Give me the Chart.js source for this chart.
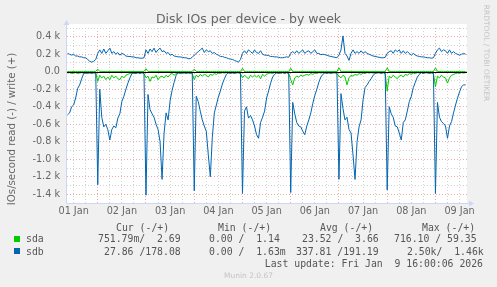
<!DOCTYPE html>
<html>
<head>
<meta charset="utf-8">
<script src="https://cdn.jsdelivr.net/npm/chart.js@4.4.1/dist/chart.umd.min.js"></script>
<style>
  html, body { margin: 0; padding: 0; background: #f0f0f0; }
  #wrap { position: relative; width: 497px; height: 287px; overflow: hidden; font-family: "DejaVu Sans", sans-serif; color: #666; }
  #chart { position: absolute; left: 0; top: 0; }
  .t { position: absolute; white-space: pre; line-height: 12px; height: 12px; }
  .mono { font-family: "DejaVu Sans Mono", monospace; font-size: 9.8px; color: #555; }
  .sq { position: absolute; width: 6px; height: 6px; }
</style>
</head>
<body>
<div id="wrap">
  <canvas id="chart" width="497" height="287"></canvas>
  <div class="t" style="left:0;width:497px;text-align:center;top:11px;line-height:15px;height:15px;font-size:12.5px;">Disk IOs per device - by week</div>
  <div class="t" style="left:-88px;width:200px;top:123px;text-align:center;font-size:10.2px;transform:rotate(-90deg);">IOs/second read (-) / write (+)</div>
  <div class="t" style="left:436px;width:100px;top:47px;text-align:center;font-size:7.5px;color:#c4c4c4;transform:rotate(90deg);">RRDTOOL / TOBI OETIKER</div>

  <div class="t mono" style="left:116px;top:222px;">Cur (-/+)</div>
  <div class="t mono" style="left:218px;top:222px;">Min (-/+)</div>
  <div class="t mono" style="left:320px;top:222px;">Avg (-/+)</div>
  <div class="t mono" style="left:422px;top:222px;">Max (-/+)</div>

  <div class="sq" style="left:14px;top:236px;background:#00cc00;"></div>
  <div class="t mono" style="left:26px;top:233px;">sda</div>
  <div class="t mono" style="left:98px;top:233px;">751.79m/  2.69</div>
  <div class="t mono" style="left:209px;top:233px;">0.00 /  1.14</div>
  <div class="t mono" style="left:302px;top:233px;">23.52 /  3.66</div>
  <div class="t mono" style="left:394px;top:233px;">716.10 / 59.35</div>

  <div class="sq" style="left:14px;top:248px;background:#0066b3;"></div>
  <div class="t mono" style="left:26px;top:246px;">sdb</div>
  <div class="t mono" style="left:104px;top:246px;">27.86 /178.08</div>
  <div class="t mono" style="left:209px;top:246px;">0.00 /  1.63m</div>
  <div class="t mono" style="left:296px;top:246px;">337.81 /191.19</div>
  <div class="t mono" style="left:407px;top:246px;">2.50k/  1.46k</div>

  <div class="t mono" style="left:0;width:483px;text-align:right;top:258px;">Last update: Fri Jan  9 16:00:06 2026</div>
  <div class="t" style="left:0;width:497px;text-align:center;top:270px;font-size:7.5px;color:#c4c4c4;">Munin 2.0.67</div>
</div>
<script>
window.addEventListener("DOMContentLoaded", () => {

  // hourly samples, first one at 01 Jan 09:00 (hours counted from 01 Jan 00:00)
  const firstHour = 9;
  const dayLabels = ["01 Jan", "02 Jan", "03 Jan", "04 Jan", "05 Jan", "06 Jan", "07 Jan", "08 Jan", "09 Jan"];

  // sdb reads (drawn negative)
  const sdbRead = [
    -490, -470, -400, -380, -300, -190, -150, -80, -20, -10, -20, -10, -20, -10, -20,
    -1290, -200, -520, -630, -600, -660, -780, -660, -620, -640, -530, -480, -340, -280, -200, -130, -70, -20, -10, -20, -10, -20, -10, -20,
    -1410, -260, -430, -480, -520, -600, -660, -800, -1230, -700, -470, -550, -330, -210, -120, -40, -10, -20, -10, -10, -20, -10, -20, -10,
    -1360, -280, -340, -450, -550, -620, -680, -950, -1200, -750, -470, -380, -290, -220, -140, -80, -30, -10, -20, -10, -20, -10, -10, -20,
    -1390, -450, -400, -530, -500, -550, -620, -720, -760, -580, -520, -450, -300, -220, -130, -60, -30, -10, -20, -10, -10, -20, -10, -20,
    -1380, -350, -480, -580, -620, -630, -680, -720, -620, -550, -470, -360, -270, -200, -120, -60, -30, -10, -20, -10, -20, -10, -10, -20,
    -1230, -250, -420, -550, -520, -660, -700, -950, -1230, -800, -630, -550, -320, -180, -150, -110, -80, -40, -20, -10, -10, -20, -10, -20,
    -1350, -400, -480, -520, -620, -630, -700, -780, -580, -550, -450, -340, -280, -180, -120, -60, -30, -10, -20, -10, -10, -20, -10, -20,
    -1390, -350, -520, -570, -590, -620, -760, -620, -570, -470, -380, -300, -230, -170, -150, -150
  ];

  // sdb writes
  const sdbWrite = [
    210, 200, 190, 200, 180, 180, 170, 170, 160, 160, 140, 120, 110, 120, 140,
    210, 250, 210, 260, 210, 240, 270, 210, 230, 200, 220, 190, 210, 200, 180, 175, 175, 170, 170, 160, 160, 155, 155, 160,
    250, 210, 260, 230, 270, 220, 250, 270, 230, 240, 210, 220, 190, 200, 180, 175, 170, 170, 165, 160, 160, 150, 150, 165,
    190, 210, 230, 250, 270, 220, 250, 230, 240, 210, 220, 200, 190, 175, 175, 165, 160, 150, 145, 140, 130, 120, 110, 140,
    210, 240, 210, 250, 230, 210, 250, 220, 210, 240, 200, 190, 190, 185, 175, 175, 170, 170, 165, 160, 160, 165, 170, 165,
    210, 230, 210, 240, 210, 230, 250, 210, 230, 240, 210, 230, 250, 210, 210, 195, 200, 195, 190, 180, 175, 170, 165, 160,
    190, 250, 410, 210, 180, 130, 210, 250, 210, 230, 210, 240, 210, 230, 210, 200, 190, 180, 175, 170, 165, 160, 160, 165,
    210, 230, 240, 210, 250, 230, 250, 210, 240, 210, 230, 210, 190, 210, 190, 180, 175, 170, 170, 165, 160, 160, 155, 160,
    210, 250, 270, 230, 250, 240, 210, 250, 210, 230, 210, 200, 190, 200, 210, 200
  ];

  // sda reads (drawn negative)
  const sdaRead = [
    -15, -10, -20, -15, -10, -20, -15, -10, -15, -20, -10, -15, -10, -15, -10,
    -110, -40, -70, -50, -90, -60, -90, -40, -70, -50, -80, -90, -50, -70, -40, -30, -20, -15, -20, -15, -10, -15, -10, -20,
    -70, -50, -110, -60, -70, -40, -90, -60, -50, -70, -40, -60, -30, -20, -40, -20, -15, -10, -20, -15, -10, -15, -10, -20,
    -90, -40, -60, -30, -50, -30, -40, -60, -30, -40, -20, -30, -15, -20, -10, -15, -10, -15, -10, -15, -10, -15, -10, -20,
    -70, -40, -60, -80, -40, -60, -40, -60, -40, -80, -30, -50, -30, -20, -15, -20, -10, -15, -10, -20, -10, -15, -10, -20,
    -90, -150, -70, -50, -60, -40, -50, -40, -30, -40, -20, -30, -15, -20, -10, -15, -10, -15, -10, -15, -10, -15, -10, -20,
    -50, -70, -40, -60, -150, -70, -40, -50, -30, -40, -20, -30, -15, -20, -10, -15, -10, -15, -10, -15, -10, -15, -10, -20,
    -220, -50, -70, -40, -60, -80, -50, -40, -60, -30, -40, -20, -30, -15, -20, -10, -15, -10, -15, -10, -15, -10, -15, -20,
    -170, -50, -70, -40, -60, -70, -130, -70, -40, -30, -20, -15, -20, -10, -15, -10
  ];

  // sda writes
  const sdaWrite = [
    3, 3, 2, 3, 3, 2, 3, 3, 2, 3, 3, 2, 3, 3, 4,
    30, 3, 4, 3, 3, 4, 3, 3, 3, 2, 3, 3, 2, 3, 3, 2, 3, 3, 2, 3, 3, 2, 3, 3,
    35, 3, 4, 3, 3, 4, 3, 3, 3, 2, 3, 3, 2, 3, 3, 2, 3, 3, 2, 3, 3, 2, 3, 3,
    30, 4, 3, 3, 4, 3, 3, 3, 2, 3, 3, 2, 3, 3, 2, 3, 3, 2, 3, 3, 2, 3, 3, 3,
    40, 3, 4, 3, 3, 4, 3, 3, 3, 2, 3, 3, 2, 3, 3, 2, 3, 3, 2, 3, 3, 2, 3, 3,
    40, 4, 3, 3, 4, 3, 3, 3, 2, 3, 3, 2, 3, 3, 2, 3, 3, 2, 3, 3, 2, 3, 3, 3,
    45, 3, 4, 3, 3, 4, 3, 3, 3, 2, 3, 3, 2, 3, 3, 2, 3, 3, 2, 3, 3, 2, 3, 3,
    45, 4, 3, 3, 4, 3, 3, 3, 2, 3, 3, 2, 3, 3, 2, 3, 3, 2, 3, 3, 2, 3, 3, 3,
    45, 4, 3, 3, 4, 3, 3, 3, 2, 3, 3, 2, 3, 3, 3, 3
  ];

  const pts = arr => arr.map((v, i) => ({ x: firstHour + i, y: v }));

  const majorGrid = "#eeaaaa";
  const minorGrid = "#d2d2d2";
  const axisColor = "#cfd6f8";

  // white canvas, zero line and munin style axis arrows
  const muninFrame = {
    id: "muninFrame",
    beforeDraw(chart) {
      const { ctx, chartArea: a } = chart;
      ctx.save();
      ctx.fillStyle = "#ffffff";
      ctx.fillRect(a.left, a.top - 4, a.right - a.left, a.bottom - a.top + 4);
      ctx.restore();
    },
    afterDatasetsDraw(chart) {
      const { ctx, chartArea: a, scales } = chart;
      const y0 = Math.round(scales.y.getPixelForValue(0)) + 0.5;
      const l = Math.round(a.left) - 0.5;
      const b = Math.round(a.bottom) + 0.5;
      ctx.save();
      ctx.lineWidth = 1;
      ctx.strokeStyle = "#000000";
      ctx.beginPath();
      ctx.moveTo(a.left, y0);
      ctx.lineTo(a.right, y0);
      ctx.stroke();

      ctx.strokeStyle = axisColor;
      ctx.beginPath();
      ctx.moveTo(l, b);
      ctx.lineTo(l, a.top - 4);
      ctx.moveTo(l, b);
      ctx.lineTo(a.right + 3, b);
      ctx.stroke();

      ctx.fillStyle = axisColor;
      ctx.beginPath();
      ctx.moveTo(l, a.top - 8);
      ctx.lineTo(l - 3, a.top - 3);
      ctx.lineTo(l + 3, a.top - 3);
      ctx.closePath();
      ctx.fill();
      ctx.beginPath();
      ctx.moveTo(a.right + 7, b);
      ctx.lineTo(a.right + 2, b - 3);
      ctx.lineTo(a.right + 2, b + 3);
      ctx.closePath();
      ctx.fill();
      ctx.restore();
    }
  };

  const line = (data, color) => ({
    data: data,
    borderColor: color,
    borderWidth: 1,
    pointRadius: 0,
    fill: false
  });

  new Chart(document.getElementById("chart"), {
    type: "line",
    data: {
      datasets: [
        line(pts(sdbWrite), "#0066b3"),
        line(pts(sdbRead), "#0066b3"),
        line(pts(sdaWrite), "#00cc00"),
        line(pts(sdaRead), "#00cc00")
      ]
    },
    plugins: [muninFrame],
    options: {
      responsive: false,
      animation: false,
      layout: { padding: { left: 0, right: 30, top: 28, bottom: 0 } },
      elements: { line: { tension: 0 } },
      plugins: { legend: { display: false }, tooltip: { enabled: false } },
      scales: {
        x: {
          type: "linear",
          min: 8.7,
          max: 207.7,
          afterFit: s => { s.height = 84; },
          afterBuildTicks: s => {
            const ticks = [];
            for (let h = 12; h <= 204; h += 6) ticks.push({ value: h });
            s.ticks = ticks;
          },
          border: { display: false, dash: [1, 2] },
          grid: {
            drawTicks: false,
            color: c => (c.tick && c.tick.value % 24 === 0 ? majorGrid : minorGrid)
          },
          ticks: {
            autoSkip: false,
            maxRotation: 0,
            padding: 3,
            color: "#666",
            font: { family: "DejaVu Sans", size: 9.7 },
            callback: v => (v % 24 === 12 ? dayLabels[(v - 12) / 24] : "")
          }
        },
        y: {
          min: -1500,
          max: 500,
          afterFit: s => { s.width = 67; },
          border: { display: false, dash: [1, 2] },
          grid: {
            drawTicks: false,
            color: c => (c.tick && c.tick.value % 200 === 0 ? majorGrid : minorGrid)
          },
          ticks: {
            stepSize: 100,
            autoSkip: false,
            padding: 7,
            color: "#666",
            font: { family: "DejaVu Sans", size: 9.7 },
            callback: v => {
              if (v % 200 !== 0 || v === -1500 || v === 500) return "";
              return v === 0 ? "0.0" : (v / 1000).toFixed(1) + " k";
            }
          }
        }
      }
    }
  });

});
</script>
</body>
</html>
